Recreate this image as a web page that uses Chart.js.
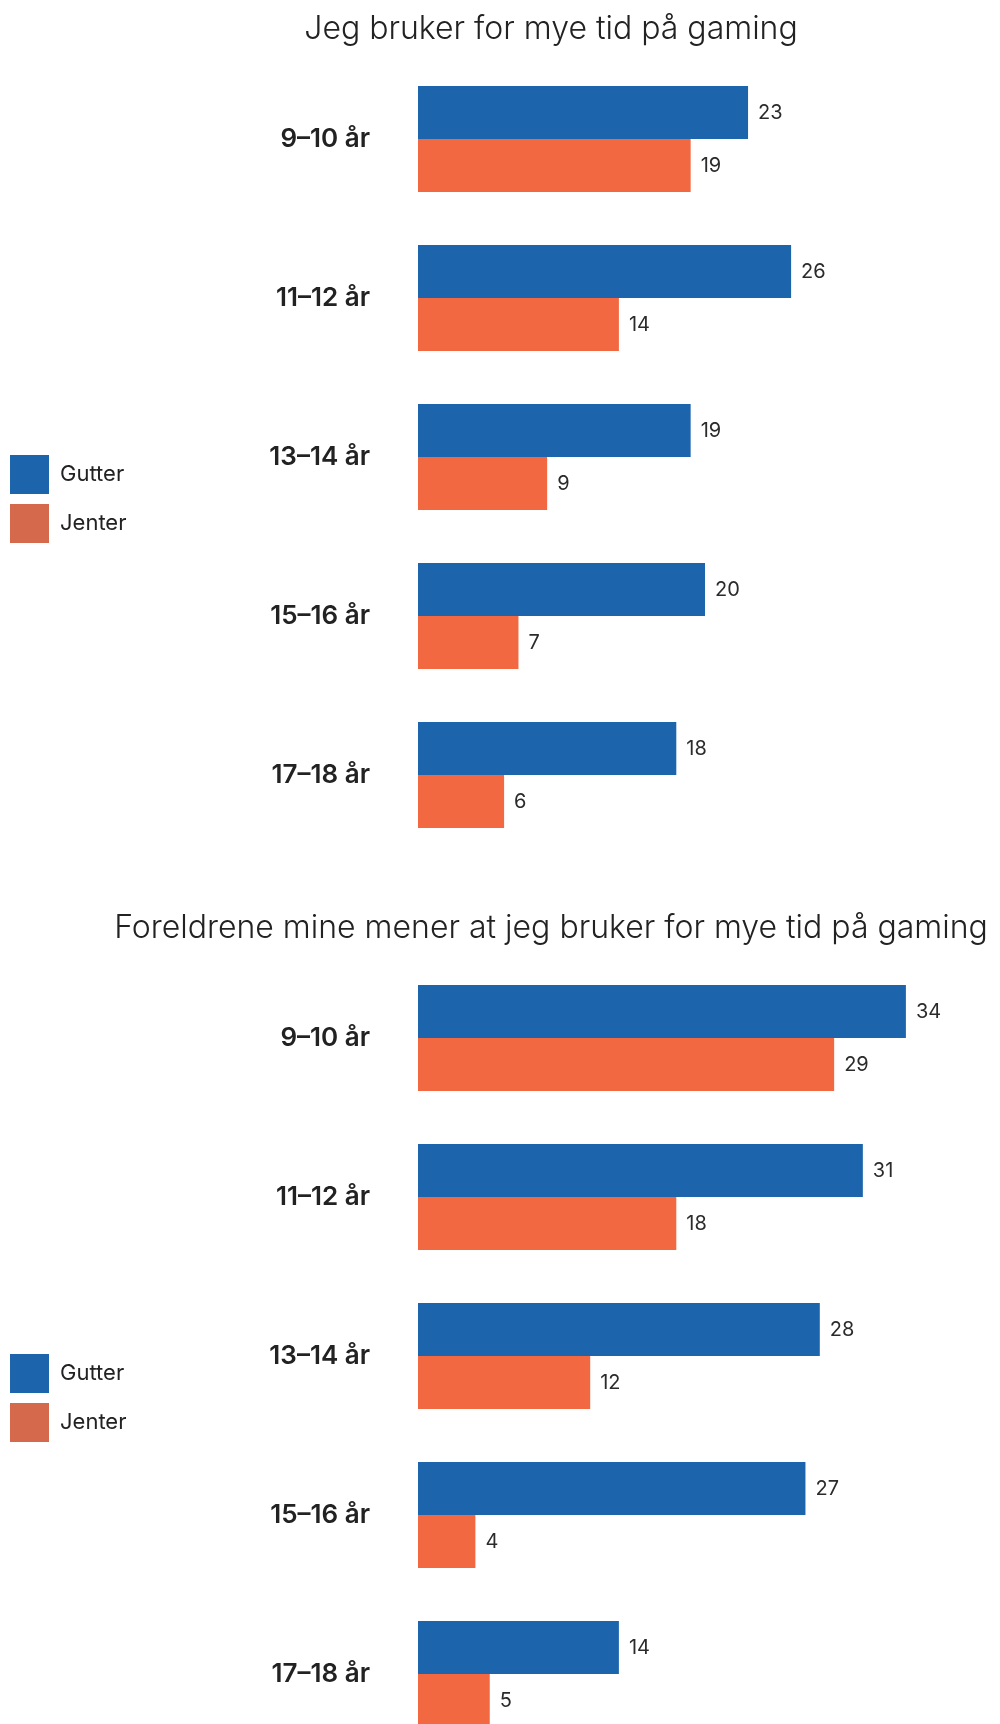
<!DOCTYPE html>
<html lang="no">
<head>
<meta charset="utf-8">
<title>Gaming – gutter og jenter</title>
<script src="https://cdn.jsdelivr.net/npm/chart.js@4.4.1/dist/chart.umd.min.js"></script>
<style>
  html, body { margin: 0; padding: 0; background: #fff; }
  body { width: 1000px; height: 1724px; overflow: hidden; }
  .chart-box { position: relative; width: 1000px; height: 899px; }
</style>
</head>
<body>
<div class="chart-box"><canvas id="selfChart"></canvas></div>
<div class="chart-box"><canvas id="parentsChart"></canvas></div>
<script>
const ageGroups = ['9–10 år', '11–12 år', '13–14 år', '15–16 år', '17–18 år'];
const seriesNames = ['Gutter', 'Jenter'];

// "Jeg bruker for mye tid på gaming" (prosent)
const selfBoys = [23, 26, 19, 20, 18];
const selfGirls = [19, 14, 9, 7, 6];

// "Foreldrene mine mener at jeg bruker for mye tid på gaming" (prosent)
const parentsBoys = [34, 31, 28, 27, 14];
const parentsGirls = [29, 18, 12, 4, 5];

const barColors = ['#1c65ac', '#f26841'];
const legendColors = ['#1c65ac', '#d4694b'];
const FONT = 'Inter, "Noto Sans", sans-serif';
const TEXT = '#222222';

// writes the number just past the end of each bar
const valueLabels = {
  id: 'valueLabels',
  afterDatasetsDraw(chart) {
    const ctx = chart.ctx;
    ctx.save();
    ctx.font = '400 20px ' + FONT;
    ctx.fillStyle = '#2b2b2b';
    ctx.textAlign = 'left';
    ctx.textBaseline = 'middle';
    chart.data.datasets.forEach((ds, di) => {
      chart.getDatasetMeta(di).data.forEach((bar, i) => {
        ctx.fillText(String(ds.data[i]), bar.x + 10, bar.y);
      });
    });
    ctx.restore();
  }
};

// legend a little below the middle, title a little right of the middle
const boxShift = {
  id: 'boxShift',
  afterLayout(chart, args, opts) {
    chart.legend.top += opts.legendDy;
    chart.legend.bottom += opts.legendDy;
    chart.titleBlock.left += opts.titleDx;
    chart.titleBlock.right += opts.titleDx;
  }
};

function makeChart(id, title, boys, girls){
  const canvas = document.getElementById(id);
  return new Chart(canvas, {
    type: 'bar',
    data: {
      labels: ageGroups,
      datasets: [
        { label: seriesNames[0], data: boys, backgroundColor: barColors[0] },
        { label: seriesNames[1], data: girls, backgroundColor: barColors[1] }
      ]
    },
    options: {
      indexAxis: 'y',
      responsive: true,
      maintainAspectRatio: false,
      animation: false,
      events: [],
      layout: { padding: { top: 0, right: 8, bottom: 44.5, left: 0 } },
      datasets: { bar: { categoryPercentage: 0.667, barPercentage: 1.0, borderWidth: 0 } },
      scales: {
        x: { display: false, min: 0, max: 40 },
        y: {
          grid: { display: false },
          border: { display: false },
          ticks: {
            color: TEXT,
            padding: 40,
            font: { family: FONT, size: 26, weight: '600' }
          },
          afterFit(scale) {
            scale.width = 418 - scale.chart.legend.width;
            scale.paddingTop = 0;
            scale.paddingBottom = 0;
          }
        }
      },
      plugins: {
        title: {
          display: true,
          text: title,
          color: TEXT,
          align: 'center',
          font: { family: FONT, size: 32, weight: '300', lineHeight: 1.2 },
          padding: { top: 10, bottom: 11.1 }
        },
        legend: {
          position: 'left',
          fullSize: false,
          align: 'center',
          labels: {
            boxWidth: 39,
            boxHeight: 39,
            padding: 10,
            color: TEXT,
            font: { family: FONT, size: 22, weight: '400' },
            generateLabels(chart) {
              return Chart.defaults.plugins.legend.labels.generateLabels(chart).map((item, i) => {
                item.fillStyle = legendColors[i];
                item.strokeStyle = legendColors[i];
                item.lineWidth = 0;
                return item;
              });
            }
          }
        },
        boxShift: { legendDy: 42, titleDx: 55 },
        tooltip: { enabled: false }
      }
    },
    plugins: [valueLabels, boxShift]
  });
}

makeChart('selfChart', 'Jeg bruker for mye tid på gaming', selfBoys, selfGirls);
makeChart('parentsChart', 'Foreldrene mine mener at jeg bruker for mye tid på gaming', parentsBoys, parentsGirls);
</script>
</body>
</html>
